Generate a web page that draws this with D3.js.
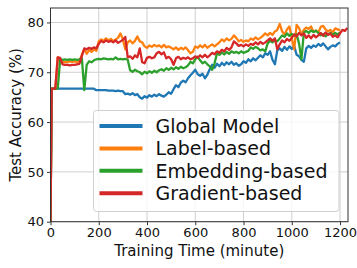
<!DOCTYPE html>
<html>
<head>
<meta charset="utf-8">
<script src="https://cdn.jsdelivr.net/npm/d3@7"></script>
<style>
body { margin: 0; background: #fff; }
text { font-family: "DejaVu Sans", sans-serif; }
</style>
</head>
<body>
<div id="chart"></div>
<script>

const width = 357, height = 268;

// DATA (minutes, accuracy %)
const time = [0, 5,
	10, 20, 30, 40, 50, 60, 70, 80, 90, 100,
	110, 120, 130, 140, 150, 160, 170, 180, 190, 200,
	210, 220, 230, 240, 250, 260, 270, 280, 290, 300,
	310, 320, 330, 340, 350, 360, 370, 380, 390, 400,
	410, 420, 430, 440, 450, 460, 470, 480, 490, 500,
	510, 520, 530, 540, 550, 560, 570, 580, 590, 600,
	610, 620, 630, 640, 650, 660, 670, 680, 690, 700,
	710, 720, 730, 740, 750, 760, 770, 780, 790, 800,
	810, 820, 830, 840, 850, 860, 870, 880, 890, 900,
	910, 920, 930, 940, 950, 960, 970, 980, 990, 1000,
	1010, 1020, 1030, 1040, 1050, 1060, 1070, 1080, 1090, 1100,
	1110, 1120, 1130, 1140, 1150, 1160, 1170, 1180, 1190, 1200,
	1210, 1220, 1230];

const globalModel = [40, 66.7,
	66.7, 66.7, 66.7, 66.7, 66.7, 66.7, 66.7, 66.7, 66.7, 66.7,
	66.7, 66.7, 66.7, 66.7, 66.7, 66.7, 66.7, 66.7, 66.4, 66.4,
	66.4, 66.4, 66.4, 66.3, 66.3, 66.3, 66.2, 66.3, 66.2, 66.2,
	65.6, 65.7, 65.5, 65.8, 65.4, 65.6, 65.0, 64.7, 65.2, 64.9,
	65.4, 65.1, 65.5, 65.2, 65.6, 65.3, 65.1, 65.5, 66.0, 65.7,
	66.6, 67.4, 67.0, 67.9, 68.3, 68.0, 68.8, 69.4, 69.9, 70.5,
	69.6, 69.3, 69.7, 68.8, 69.5, 70.6, 71.5, 70.9, 71.7, 71.2,
	71.9, 71.4, 72.0, 71.6, 72.1, 71.5, 71.8, 71.3, 71.6, 72.2,
	71.9, 72.6, 72.2, 72.8, 72.4, 72.9, 73.4, 73.0, 73.8, 73.5,
	74.2, 72.5, 71.6, 74.4, 74.8, 74.3, 75.1, 74.5, 75.2, 74.7,
	75.3, 73.5, 73.2, 72.5, 72.1, 74.8, 75.3, 74.9, 75.4, 75.1,
	75.7, 75.3, 75.8, 75.2, 74.6, 75.1, 75.4, 75.2, 75.7, 76.0,
	null, null, null];

const labelBased = [40, 66.7,
	66.7, 66.7, 73.0, 72.7, 72.0, 72.1, 72.0, 72.2, 72.1, 72.2,
	72.0, 72.3, 73.5, 74.6, 73.7, 74.5, 74.1, 74.6, 74.3, 76.2,
	76.6, 76.3, 76.8, 76.4, 76.7, 76.2, 76.6, 76.9, 77.8, 76.6,
	74.6, 76.0, 76.4, 75.8, 76.3, 77.2, 76.2, 76.0, 75.2, 74.9,
	75.4, 75.1, 75.5, 75.2, 75.4, 75.0, 75.5, 75.0, 75.2, 74.9,
	74.6, 75.0, 74.5, 74.9, 74.6, 75.0, 74.4, 73.8, 74.1, 75.2,
	74.9, 75.4, 75.0, 75.5, 74.9, 75.3, 75.6, 75.2, 75.6, 76.0,
	76.6, 76.2, 76.8, 76.4, 76.7, 77.4, 76.9, 76.2, 76.5, 76.1,
	76.4, 76.2, 76.8, 76.5, 77.0, 76.6, 76.9, 77.3, 77.8, 77.4,
	77.9, 77.5, 78.2, 78.5, 79.7, 78.2, 77.6, 78.6, 79.2, 76.8,
	74.6, 79.5, 78.9, 77.6, 78.5, 79.0, 78.7, 79.2, 78.1, 78.4,
	78.0, 79.1, 79.3, 78.6, 78.2, 78.5, 78.0, 78.8, 78.6, 78.4,
	null, null, null];

const embeddingBased = [40, 66.7,
	66.7, 66.7, 66.7, 72.6, 72.5, 72.6, 72.5, 72.6, 72.5, 72.6,
	72.5, 72.6, 72.8, 66.4, 71.5, 72.2, 72.0, 72.4, 72.6, 72.7,
	72.6, 72.8, 72.7, 72.6, 72.7, 72.6, 73.0, 72.6, 72.7, 72.6,
	72.7, 72.5, 70.4, 70.1, 70.5, 70.2, 70.0, 69.6, 70.1, 69.8,
	70.2, 69.9, 70.3, 70.0, 70.4, 70.6, 70.3, 70.8, 70.5, 70.9,
	70.6, 71.0, 70.7, 71.1, 70.8, 71.0, 71.4, 72.1, 71.8, 72.6,
	73.1, 72.4, 71.8, 72.1, 71.6, 71.2, 70.5, 71.8, 73.8, 73.5,
	74.0, 73.6, 74.1, 73.7, 74.2, 73.9, 74.1, 73.8, 74.2, 73.9,
	74.1, 74.3, 75.0, 74.7, 75.1, 74.8, 74.4, 74.6, 74.2, 75.8,
	76.3, 76.0, 76.5, 76.2, 76.8, 77.4, 77.1, 77.8, 77.3, 77.7,
	77.4, 77.6, 75.8, 72.6, 78.0, 78.3, 77.9, 78.4, 78.1, 78.3,
	77.9, 77.4, 77.7, 77.2, 77.6, 77.9, 77.5, 77.9, 77.6, 78.0,
	null, null, null];

const gradientBased = [40, 66.7,
	66.7, 66.7, 73.0, 72.9, 71.6, 71.5, 71.5, 71.4, 71.5, 71.5,
	71.6, 71.7, 73.3, 74.8, 74.6, 74.9, 74.7, 75.0, 74.8, 75.7,
	76.3, 76.0, 76.4, 76.1, 76.3, 76.0, 76.4, 75.9, 76.2, 76.5,
	77.1, 73.0, 73.2, 72.7, 73.4, 73.0, 74.8, 72.0, 71.8, 72.9,
	73.1, 72.8, 73.0, 73.8, 74.1, 73.6, 74.0, 72.8, 73.1, 72.6,
	71.5, 72.8, 73.1, 72.6, 72.9, 72.7, 73.0, 72.6, 72.8, 73.2,
	72.9, 73.4, 73.0, 73.5, 73.0, 73.4, 73.9, 73.6, 74.2, 73.9,
	74.5, 74.2, 74.9, 74.5, 75.0, 76.2, 75.8, 75.3, 75.5, 75.2,
	75.6, 75.3, 75.7, 75.5, 76.0, 75.6, 76.1, 75.7, 76.0, 76.4,
	76.8, 76.3, 76.8, 74.6, 75.6, 76.4, 76.0, 76.7, 76.3, 76.9,
	77.6, 77.2, 77.9, 77.4, 77.8, 76.9, 77.4, 76.8, 77.5, 77.0,
	77.4, 77.9, 77.3, 78.0, 77.5, 77.8, 77.1, 77.4, 77.0, 77.8,
	78.5, 78.3, 78.9];

const seriesNames = ["Global Model", "Label-based", "Embedding-based", "Gradient-based"];
const seriesColors = ["#1f77b4", "#ff7f0e", "#2ca02c", "#d62728"];
const seriesValues = [globalModel, labelBased, embeddingBased, gradientBased];

const xTicks = [0, 200, 400, 600, 800, 1000, 1200];
const yTicks = [40, 50, 60, 70, 80];

// LAYOUT
const margin = {left: 50.5, top: 8, right: 9, bottom: 46.3};
const w = width - margin.left - margin.right;
const h = height - margin.top - margin.bottom;

let svg = d3.select("#chart")
	.append("svg")
	.attr("width", width)
	.attr("height", height);

let x = d3.scaleLinear().domain([0, 1233]).range([0, w]);
let y = d3.scaleLinear().domain([40, 82.9]).range([h, 0]);

let g = svg.append("g").attr("transform", `translate(${margin.left},${margin.top})`);

// GRID
g.append("g").selectAll("line")
	.data(xTicks)
	.enter()
	.append("line")
	.attr("x1", d => x(d)).attr("x2", d => x(d))
	.attr("y1", 0).attr("y2", h)
	.style("stroke", "#cfcfcf")
	.style("stroke-width", 1);

g.append("g").selectAll("line")
	.data(yTicks)
	.enter()
	.append("line")
	.attr("x1", 0).attr("x2", w)
	.attr("y1", d => y(d)).attr("y2", d => y(d))
	.style("stroke", "#cfcfcf")
	.style("stroke-width", 1);

// LINES
svg.append("defs").append("clipPath").attr("id", "clip")
	.append("rect").attr("width", w).attr("height", h);

let lines = g.append("g").attr("clip-path", "url(#clip)");

let line = d3.line()
	.defined(d => d[1] != null)
	.x(d => x(d[0]))
	.y(d => y(d[1]));

seriesValues.forEach((vals, i) => {
	lines.append("path")
		.datum(time.map((t, k) => [t, vals[k]]))
		.attr("d", line)
		.style("fill", "none")
		.style("stroke", seriesColors[i])
		.style("stroke-width", 2.3)
		.style("stroke-linejoin", "round");
});

// AXES
let xAxis = g.append("g")
	.attr("transform", `translate(0,${h})`)
	.call(d3.axisBottom(x).tickValues(xTicks).tickFormat(d3.format("d")).tickSize(3.5).tickPadding(3));

let yAxis = g.append("g")
	.call(d3.axisLeft(y).tickValues(yTicks).tickFormat(d3.format("d")).tickSize(3.5).tickPadding(3));

[xAxis, yAxis].forEach(a => {
	a.select(".domain").remove();
	a.selectAll("line").style("stroke", "#333");
	a.selectAll("text")
		.style("font-family", "DejaVu Sans")
		.style("font-size", "13px")
		.style("fill", "#111");
});

// SPINES
g.append("rect")
	.attr("width", w).attr("height", h)
	.style("fill", "none")
	.style("stroke", "#333")
	.style("stroke-width", 1);

// LABELS
svg.append("text")
	.attr("x", margin.left + w / 2)
	.attr("y", 255.5)
	.attr("text-anchor", "middle")
	.style("font-size", "15px")
	.style("fill", "#111")
	.text("Training Time (minute)");

svg.append("text")
	.attr("transform", `translate(21,${margin.top + h / 2}) rotate(-90)`)
	.attr("text-anchor", "middle")
	.style("font-size", "15px")
	.style("fill", "#111")
	.text("Test Accuracy (%)");

// LEGEND
let legend = svg.append("g");

legend.append("rect")
	.attr("x", 93.5).attr("y", 110.5)
	.attr("width", 245.5).attr("height", 101)
	.attr("rx", 3)
	.style("fill", "#fff")
	.style("fill-opacity", 0.8)
	.style("stroke", "#d0d0d0")
	.style("stroke-width", 1);

const rowY = [126, 148.4, 170.8, 193.2];

seriesNames.forEach((name, i) => {
	legend.append("line")
		.attr("x1", 99.5).attr("x2", 142.5)
		.attr("y1", rowY[i]).attr("y2", rowY[i])
		.style("stroke", seriesColors[i])
		.style("stroke-width", 4);
	legend.append("text")
		.attr("x", 155.5)
		.attr("y", rowY[i] + 6.8)
		.style("font-size", "19px")
		.style("fill", "#111")
		.text(name);
});

</script>
</body>
</html>
